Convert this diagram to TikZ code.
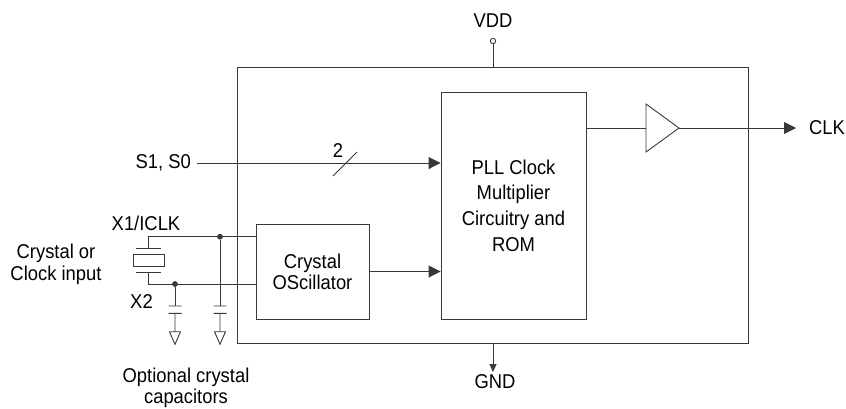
\documentclass[tikz,border=0pt]{standalone}
\usepackage{fontspec}
\setmainfont{Liberation Sans}[FakeStretch=0.92]
\usetikzlibrary{arrows.meta}
\colorlet{wirec}{black!78}
\tikzset{
  wire/.style={draw=wirec, line width=0.9pt},
  arr/.style={wire, -{Triangle[length=12pt,width=12pt]}},
  garr/.style={wire, -{Triangle[length=8pt,width=7pt]}},
  box/.style={wire, rectangle, inner sep=0pt, align=center, font=\fontsize{20}{25.6}\selectfont},
  lbl/.style={inner sep=0pt, align=center, font=\fontsize{20}{24}\selectfont},
  dot/.style={circle, fill=wirec, inner sep=0pt, minimum size=5.8pt},
  pin/.style={circle, wire, fill=white, inner sep=0pt, minimum size=5.4pt},
  capgnd/.pic={
    \draw[wire] (-6.5,0) -- (6.5,0) (-6.5,7.3) -- (6.5,7.3) (0,7.3) -- (0,25.7)
      (-5.5,25.7) -- (5.5,25.7) -- (0,38.3) -- cycle;
  }
}
\begin{document}
\begin{tikzpicture}[x=1pt,y=-1pt]
\useasboundingbox (0,0) rectangle (846,408);
% boxes
\node[box, minimum width=511pt, minimum height=276pt] (chip) at (492.5,205) {};
\node[box, minimum width=145pt, minimum height=227pt] (pll) at (513.5,205.5) {PLL Clock\\Multiplier\\Circuitry and\\ROM};
\node[box, font=\fontsize{20}{21}\selectfont, minimum width=113pt, minimum height=95pt] (osc) at (312.5,271.5) {Crystal\\OScillator};
% labels
\node[lbl] (vdd) at (493,21) {VDD};
\node[pin] (vddpin) at (493,41) {};
\node[lbl, anchor=east] (sel) at (191,163) {S1, S0};
\node[lbl] (x1) at (146,223.5) {X1/ICLK};
\node[lbl] (x2) at (141.5,301.5) {X2};
\node[lbl, font=\fontsize{20}{21.5}\selectfont] (xin) at (56,264.5) {Crystal or\\Clock input};
\node[lbl, font=\fontsize{20}{21}\selectfont] (capl) at (186,387.8) {Optional crystal\\capacitors};
\node[lbl] (gnd) at (495,382) {GND};
\node[lbl, anchor=west] (clk) at (809,128) {CLK};
\node[lbl] (bus) at (338,151) {2};
% power
\draw[wire] (vddpin.south) -- (vddpin |- chip.north);
\coordinate (gndtip) at (493,372);
\draw[garr] (gndtip |- chip.south) -- (gndtip);
% select bus
\coordinate (selin) at (197,163);
\draw[arr] (selin) -- (selin -| pll.west);
\draw[wire] (333,176) -- (357,152);
% oscillator to pll
\draw[arr] (osc.east) -- (osc.east -| pll.west);
% buffer
\coordinate (bufin) at (646,128);
\coordinate (bufout) at (679,128);
\draw[wire] (646,104) -- (bufout) -- (646,152) -- cycle;
\draw[wire] (bufin -| pll.east) -- (bufin);
\draw[arr] (bufout) -- ([xshift=-13pt]clk.west);
% crystal
\coordinate (x1c) at (148,236.7);
\coordinate (x2c) at (148,284);
\coordinate (xtop) at (148,248.3);
\coordinate (xbot) at (148,272);
\node[dot] (d1) at (220,236.7) {};
\node[dot] (d2) at (175,284) {};
\draw[wire] (osc.west |- x1c) -- (x1c) -- (xtop);
\draw[wire] (osc.west |- x2c) -- (x2c) -- (xbot);
\draw[wire] (136,248.3) -- (161,248.3) (136,272) -- (161,272);
\draw[wire] (133,254) rectangle (164,266);
% capacitors
\coordinate (c1) at (220,306);
\coordinate (c2) at (175,306);
\draw[wire] (d1) -- (c1);
\draw[wire] (d2) -- (c2);
\pic at (c1) {capgnd};
\pic at (c2) {capgnd};
\end{tikzpicture}
\end{document}
